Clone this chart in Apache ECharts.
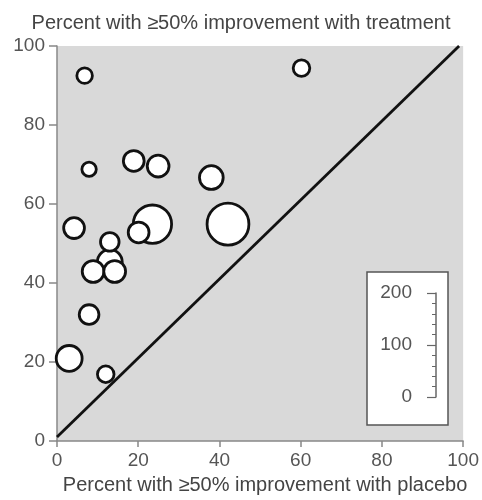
<!DOCTYPE html>
<html>
<head>
<meta charset="utf-8">
<script src="https://cdn.jsdelivr.net/npm/echarts@6/dist/echarts.min.js"></script>
<style>
  html, body { margin: 0; padding: 0; background: #fff; }
  #chart { width: 482px; height: 500px; }
</style>
</head>
<body>
<div id="chart"></div>
<script>
// placebo response (%), treatment response (%), sample size per trial
var placebo   = [6.8, 60.2, 7.9, 18.9, 24.9, 38.0, 4.2, 23.5, 20.1, 42.1, 13.0, 13.0, 8.9, 14.2, 7.9, 3.0, 12.0];
var treatment = [92.5, 94.4, 68.8, 70.9, 69.6, 66.7, 53.9, 54.9, 52.8, 54.9, 45.3, 50.4, 42.9, 42.9, 32.0, 20.9, 16.9];
var sampleSize = [32, 36, 28, 54, 59, 69, 54, 169, 54, 200, 75, 44, 59, 59, 49, 81, 36];
var axisTicks = [0, 20, 40, 60, 80, 100];
var legendTicks = [0, 100, 200];

var points = placebo.map(function (p, i) {
  return [p, treatment[i], sampleSize[i]];
});

var labelFont = 'Liberation Sans';
var chart = echarts.init(document.getElementById('chart'));

var option = {
  backgroundColor: '#fff',
  animation: false,
  title: {
    text: 'Percent with \u226550% improvement with treatment',
    left: 'center',
    top: 8,
    textStyle: { fontFamily: labelFont, fontSize: 20, fontWeight: 'normal', color: '#444' }
  },
  grid: [
    { left: 57, right: 16, top: 46, bottom: 57, show: true, backgroundColor: '#d9d9d9', borderWidth: 0 },
    // size legend scale
    { left: 436, top: 293, width: 1, height: 104 }
  ],
  xAxis: [
    {
      type: 'value', min: axisTicks[0], max: axisTicks[axisTicks.length - 1], interval: 20,
      name: 'Percent with \u226550% improvement with placebo',
      nameLocation: 'middle', nameGap: 34,
      nameTextStyle: { fontFamily: labelFont, fontSize: 20, color: '#444', padding: [0, 0, 0, 10] },
      axisLine: { show: true, lineStyle: { color: '#888', width: 1.5 } },
      axisTick: { show: true, length: 6, lineStyle: { color: '#888', width: 1.5 } },
      axisLabel: { fontFamily: labelFont, fontSize: 19, color: '#555', margin: 10 },
      splitLine: { show: false }
    },
    { gridIndex: 1, type: 'value', show: false, min: 0, max: 1 }
  ],
  yAxis: [
    {
      type: 'value', min: axisTicks[0], max: axisTicks[axisTicks.length - 1], interval: 20,
      axisLine: { show: true, lineStyle: { color: '#888', width: 1.5 } },
      axisTick: { show: true, length: 8, lineStyle: { color: '#888', width: 1.5 } },
      axisLabel: { fontFamily: labelFont, fontSize: 19, color: '#555', margin: 12 },
      splitLine: { show: false }
    },
    {
      gridIndex: 1, type: 'value', min: legendTicks[0], max: legendTicks[2], interval: 100, z: 10,
      axisLine: { show: true, lineStyle: { color: '#666', width: 1.5 } },
      axisTick: { show: true, length: 9, lineStyle: { color: '#666', width: 1.2 } },
      minorTick: { show: true, splitNumber: 5, length: 4, lineStyle: { color: '#666', width: 1 } },
      axisLabel: { fontFamily: labelFont, fontSize: 19, color: '#555', margin: 24 },
      splitLine: { show: false }
    }
  ],
  graphic: [
    {
      type: 'rect', z: 5,
      shape: { x: 367, y: 272, width: 81, height: 153 },
      style: { fill: '#fff', stroke: '#555', lineWidth: 1.5 }
    }
  ],
  series: [
    {
      type: 'line',
      data: [[0, 1], [99, 100]],
      showSymbol: false,
      symbol: 'none',
      z: 1,
      lineStyle: { color: '#111', width: 2.8 }
    },
    {
      type: 'scatter',
      data: points,
      z: 3,
      symbolSize: function (v) { return 3.1 * Math.sqrt(v[2]) - 2; },
      itemStyle: { color: '#fff', borderColor: '#111', borderWidth: 2.8, opacity: 1 }
    }
  ]
};

chart.setOption(option);
</script>
</body>
</html>
